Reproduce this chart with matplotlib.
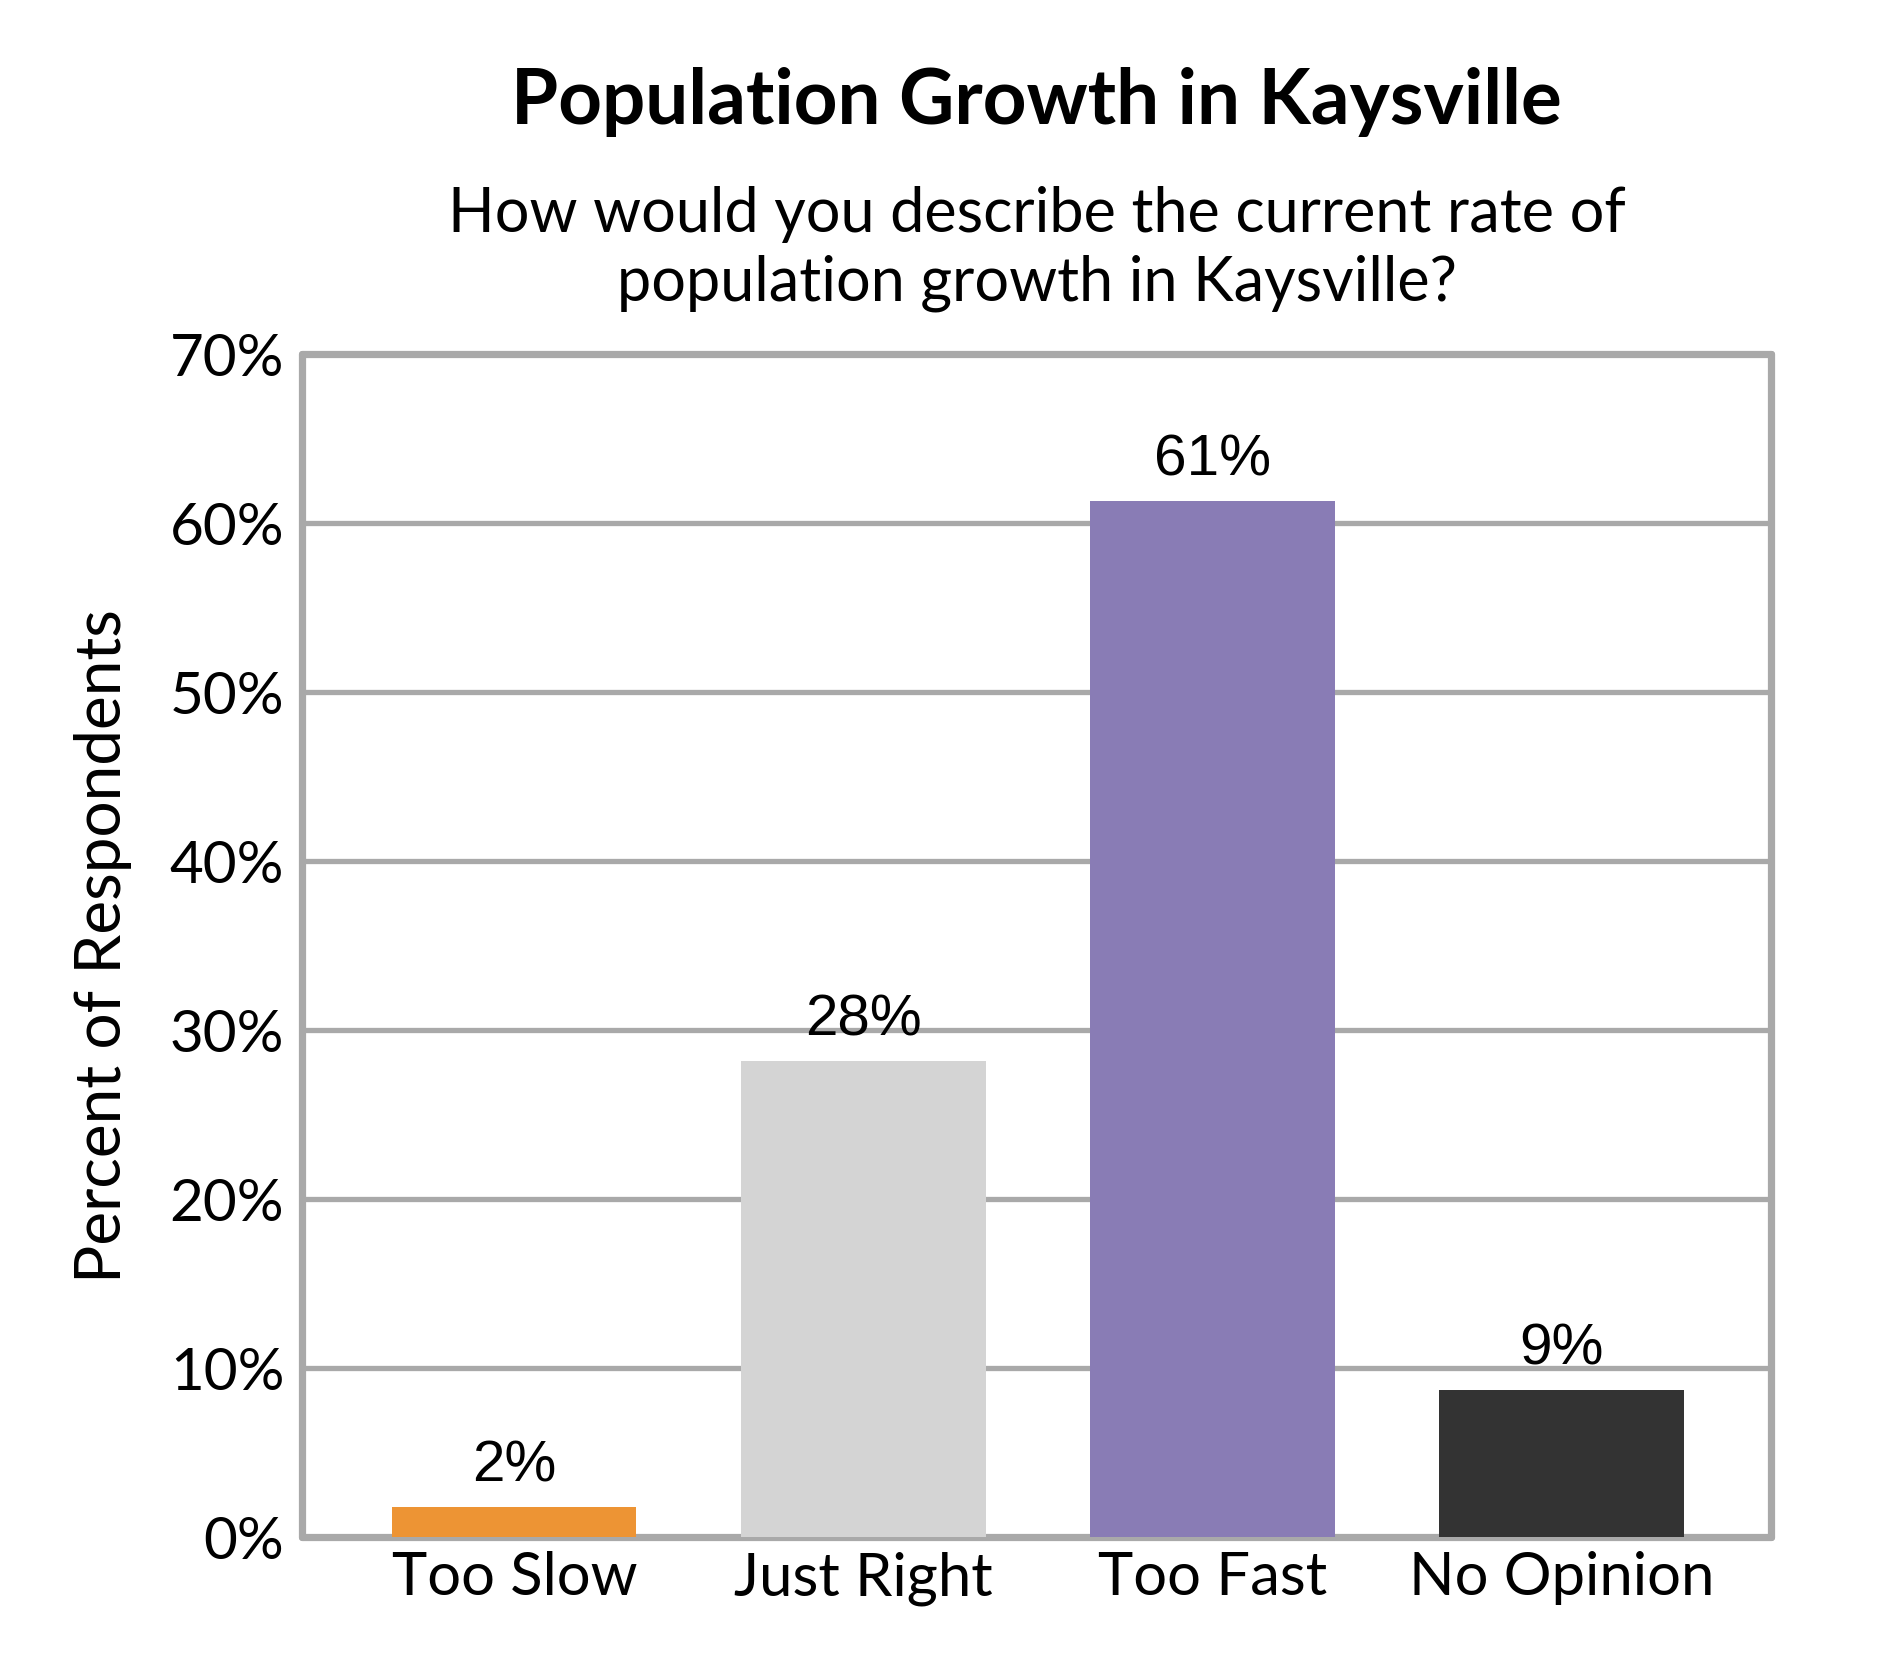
import matplotlib.pyplot as plt
import numpy as np

categories = ["Too Slow", "Just Right", "Too Fast", "No Opinion"]
values = [1.8, 28.2, 61.3, 8.7]
value_labels = ["2%", "28%", "61%", "9%"]
colors = ["#ED9434", "#D4D4D4", "#897CB5", "#333333"]
yticks = [0, 10, 20, 30, 40, 50, 60, 70]

plt.rcParams['font.family'] = ['Lato', 'DejaVu Sans']

fig = plt.figure(figsize=(18.9, 16.8), dpi=100)
left, bottom, width, height = 0.160, 0.085, 0.777, 0.704
ax = fig.add_axes([left, bottom, width, height])

x = np.arange(len(categories))
bars = ax.bar(x, values, width=0.70, color=colors, zorder=3)

for b, lab in zip(bars, value_labels):
    ax.text(b.get_x() + b.get_width() / 2, b.get_height() + 0.8, lab,
            ha='center', va='bottom', fontsize=42, family='Liberation Sans', zorder=4)

ax.set_xlim(-0.607, 3.6)
ax.set_ylim(0, 70)
ax.set_yticks(yticks)
ax.set_yticklabels([f"{t}%" for t in yticks], fontsize=42)
ax.set_xticks(x)
ax.set_xticklabels(categories, fontsize=43)
ax.tick_params(length=0, pad=13)
ax.tick_params(axis='x', pad=10)

ax.yaxis.grid(True, color='#A9A9A9', linewidth=3.8, zorder=0)
for s in ax.spines.values():
    s.set_color('#A9A9A9')
    s.set_linewidth(5.2)
    s.set_capstyle('round')

ax.set_ylabel("Percent of Respondents", fontsize=46)
ax.yaxis.set_label_coords(-0.116, 0.5)

cx = left + width / 2
fig.text(cx, 0.926, "Population Growth in Kaysville", ha='center', va='baseline',
         fontsize=55, fontweight='bold')
fig.text(cx, 0.862, "How would you describe the current rate of", ha='center',
         va='baseline', fontsize=44)
fig.text(cx, 0.821, "population growth in Kaysville?", ha='center',
         va='baseline', fontsize=44)

fig.savefig("out.png", dpi=100)
